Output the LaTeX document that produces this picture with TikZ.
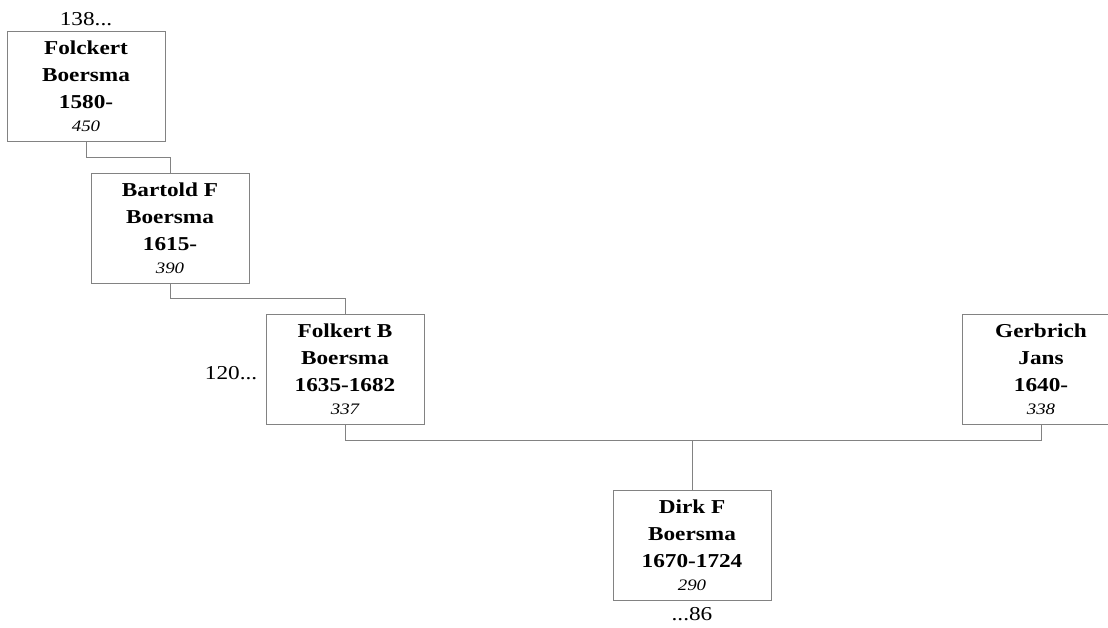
\documentclass[tikz,border=0pt]{standalone}
\usepackage{fontspec}
\setmainfont{Liberation Serif}[FakeStretch=1.18]
\definecolor{boxgray}{RGB}{130,130,130}
\definecolor{linegray}{RGB}{130,130,130}
\newcommand{\idnum}[1]{{\fontsize{16}{20}\selectfont\mdseries\itshape #1}}
\begin{document}
\begin{tikzpicture}[x=1pt,y=-1pt,
  person/.style={draw=boxgray, line width=1pt, minimum width=158pt, minimum height=110pt,
    inner sep=0pt, align=center, font=\fontsize{19.7}{27}\selectfont\bfseries},
  link/.style={draw=linegray, line width=1pt},
  note/.style={font=\fontsize{19.7}{24}\selectfont, inner sep=0pt}]
\useasboundingbox (0,0) rectangle (1108,628);
\fill[white] (0,0) rectangle (1108,628);
\node[person] (p1) at (86,86.5) {Folckert\\Boersma\\1580-\\[-4pt]\idnum{450}};
\node[person] (p2) at (170,228.5) {Bartold F\\Boersma\\1615-\\[-4pt]\idnum{390}};
\node[person] (p3) at (345,369.5) {Folkert B\\Boersma\\1635-1682\\[-4pt]\idnum{337}};
\node[person] (p4) at (1041,369.5) {Gerbrich\\Jans\\1640-\\[-4pt]\idnum{338}};
\node[person] (p5) at (692,545) {Dirk F\\Boersma\\1670-1724\\[-4pt]\idnum{290}};
\node[note, anchor=base] (n1) at ([yshift=5pt]p1.north) {138...};
\node[note, anchor=base east] (n3) at ([xshift=-8pt,yshift=-9.5pt]p3.west) {120...};
\node[note, anchor=base] (n5) at ([yshift=-20pt]p5.south) {...86};
\draw[link] (p1.south) -- ++(0,16) -| (p2.north);
\draw[link] (p2.south) -- ++(0,15) -| (p3.north);
\draw[link] (p3.south) -- ++(0,15) -| (p4.south);
\draw[link] (p5.north) -- ++(0,-50);
\end{tikzpicture}
\end{document}
